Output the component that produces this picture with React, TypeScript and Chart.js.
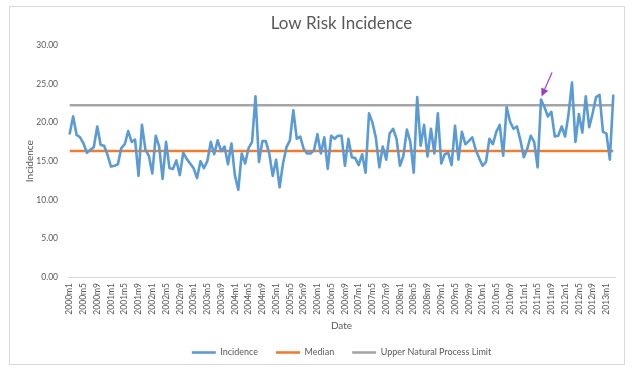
import React, { useEffect, useRef } from 'react';
import { Chart, registerables } from 'chart.js';

Chart.register(...registerables);

// ---- data ----
const START_YEAR = 2000;
const INCIDENCE: number[] = [
  18.6, 20.8, 18.4, 18.1, 17.3, 16.1, 16.5, 16.8, 19.5, 17.1,
  17.0, 15.8, 14.3, 14.4, 14.6, 16.7, 17.2, 18.9, 17.5, 17.8,
  13.1, 19.7, 16.5, 15.7, 13.4, 18.3, 16.9, 12.7, 17.5, 14.1,
  14.0, 15.1, 13.2, 16.1, 15.3, 14.7, 14.1, 12.8, 15.0, 14.1,
  15.0, 17.5, 15.9, 17.7, 16.3, 16.9, 14.6, 17.3, 13.2, 11.3,
  16.0, 14.7, 16.7, 17.5, 23.4, 14.9, 17.6, 17.6, 16.0, 13.1,
  15.2, 11.6, 14.7, 16.8, 17.7, 21.6, 17.9, 18.2, 16.6, 16.0,
  16.0, 16.4, 18.5, 16.0, 18.1, 14.0, 18.3, 17.9, 18.3, 18.3,
  14.4, 17.9, 15.5, 15.4, 14.5, 15.9, 13.5, 21.2, 20.0, 18.0,
  14.2, 16.9, 15.2, 18.6, 19.2, 17.9, 14.4, 15.7, 19.1, 17.5,
  13.5, 23.3, 17.0, 19.7, 15.6, 19.2, 16.0, 21.2, 14.7, 15.9,
  16.1, 14.5, 19.6, 15.2, 18.8, 17.2, 17.6, 18.1, 16.5, 15.4,
  14.4, 14.9, 17.9, 17.2, 18.8, 19.7, 15.7, 22.0, 20.1, 19.2,
  19.5, 17.7, 15.5, 16.6, 18.3, 17.5, 14.2, 23.0, 22.0, 20.8,
  21.4, 18.2, 18.3, 19.5, 18.2, 21.1, 25.2, 17.5, 21.1, 18.7,
  23.4, 19.4, 21.2, 23.3, 23.6, 18.8, 18.6, 15.2, 23.5,
];
const MEDIAN_VALUE = 16.33;
const UPPER_LIMIT_VALUE = 22.24;
const CATEGORIES: string[] = INCIDENCE.map(
  (_, i) => `${START_YEAR + Math.floor(i / 12)}m${(i % 12) + 1}`
);
const LABEL_EVERY = 4;
const Y_MIN = 0;
const Y_MAX = 30;
const Y_STEP = 5;
const ARROW_INDEX = 137;

const TEXT = '#595959';
const FONT = 'Lato';

const framePlugin = {
  id: 'frame',
  beforeDraw(chart: any) {
    const ctx = chart.ctx;
    ctx.save();
    ctx.fillStyle = '#ffffff';
    ctx.fillRect(0, 0, chart.width, chart.height);
    ctx.strokeStyle = '#D9D9D9';
    ctx.lineWidth = 1;
    ctx.strokeRect(9.5, 6.5, 615, 358);
    ctx.restore();
  },
};

const arrowPlugin = {
  id: 'eventArrow',
  afterDatasetsDraw(chart: any) {
    const ctx = chart.ctx;
    const px = chart.scales.x.getPixelForValue(ARROW_INDEX);
    const py = chart.scales.y.getPixelForValue(INCIDENCE[ARROW_INDEX]);
    const tipX = px + 0.5;
    const tipY = py - 3;
    const tailX = px + 11;
    const tailY = py - 27;
    const ang = Math.atan2(tipY - tailY, tipX - tailX);
    const len = 8;
    const half = 3.8;
    const bx = tipX - len * Math.cos(ang);
    const by = tipY - len * Math.sin(ang);
    ctx.save();
    ctx.strokeStyle = '#9B3FCB';
    ctx.fillStyle = '#9B3FCB';
    ctx.lineWidth = 1.2;
    ctx.beginPath();
    ctx.moveTo(tailX, tailY);
    ctx.lineTo(bx, by);
    ctx.stroke();
    ctx.beginPath();
    ctx.moveTo(tipX, tipY);
    ctx.lineTo(bx + half * Math.sin(ang), by - half * Math.cos(ang));
    ctx.lineTo(bx - half * Math.sin(ang), by + half * Math.cos(ang));
    ctx.closePath();
    ctx.fill();
    ctx.restore();
  },
};

export default function App() {
  const ref = useRef<HTMLCanvasElement | null>(null);

  useEffect(() => {
    if (!ref.current) return;
    const chart = new Chart(ref.current, {
      type: 'line',
      data: {
        labels: CATEGORIES,
        datasets: [
          {
            label: 'Incidence',
            data: INCIDENCE,
            borderColor: '#5B9BD5',
            backgroundColor: '#5B9BD5',
            borderWidth: 2.6,
            pointRadius: 0,
            tension: 0,
            borderJoinStyle: 'round',
            borderCapStyle: 'round',
          },
          {
            label: 'Median',
            data: INCIDENCE.map(() => MEDIAN_VALUE),
            borderColor: '#ED7D31',
            backgroundColor: '#ED7D31',
            borderWidth: 2.6,
            pointRadius: 0,
          },
          {
            label: 'Upper Natural Process Limit',
            data: INCIDENCE.map(() => UPPER_LIMIT_VALUE),
            borderColor: '#A5A5A5',
            backgroundColor: '#A5A5A5',
            borderWidth: 2.6,
            pointRadius: 0,
          },
        ],
      },
      options: {
        responsive: false,
        animation: false,
        events: [],
        layout: { padding: { left: 20, right: 21, top: 0, bottom: 6 } },
        font: { family: FONT },
        plugins: {
          title: {
            display: true,
            text: 'Low Risk Incidence',
            color: TEXT,
            fullSize: false,
            font: { family: FONT, size: 17, weight: 'normal' },
            padding: { top: 13, bottom: 12 },
          },
          legend: {
            position: 'bottom',
            fullSize: false,
            labels: {
              color: TEXT,
              font: { family: FONT, size: 9 },
              usePointStyle: true,
              pointStyle: 'line',
              pointStyleWidth: 24,
              padding: 18,
            },
          },
          tooltip: { enabled: false },
        },
        scales: {
          x: {
            type: 'category',
            offset: true,
            grid: { display: false, drawTicks: false },
            border: { display: true, color: '#D9D9D9', width: 1 },
            ticks: {
              autoSkip: false,
              minRotation: 90,
              maxRotation: 90,
              padding: 6,
              color: TEXT,
              font: { family: FONT, size: 8.5 },
              callback: (_v: any, i: number) => (i % LABEL_EVERY === 0 ? CATEGORIES[i] : ''),
            },
            title: {
              display: true,
              text: 'Date',
              color: TEXT,
              font: { family: FONT, size: 10 },
              padding: { top: 0, bottom: -2 },
            },
            afterFit: (s: any) => {
              s.height = 53;
            },
          },
          y: {
            min: Y_MIN,
            max: Y_MAX,
            grid: { display: false, drawTicks: false },
            border: { display: false },
            ticks: {
              stepSize: Y_STEP,
              padding: 10,
              color: TEXT,
              font: { family: FONT, size: 8.5 },
              callback: (v: any) => Number(v).toFixed(2),
            },
            title: {
              display: true,
              text: 'Incidence',
              color: TEXT,
              font: { family: FONT, size: 10 },
              padding: { top: 4, bottom: 4 },
            },
            afterFit: (s: any) => {
              s.width = 48;
            },
          },
        },
      },
      plugins: [framePlugin, arrowPlugin],
    });
    return () => chart.destroy();
  }, []);

  return (
    <div style={{ position: 'fixed', left: 0, top: 0, width: 636, height: 373, background: '#fff' }}>
      <canvas ref={ref} width={636} height={373} style={{ display: 'block' }} />
    </div>
  );
}
